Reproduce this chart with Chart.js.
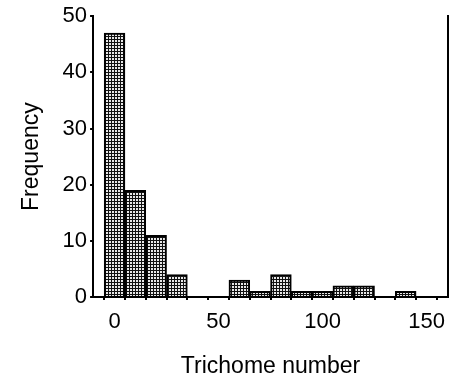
<!DOCTYPE html>
<html>
<head>
<meta charset="utf-8">
<script src="https://cdn.jsdelivr.net/npm/chart.js@4/dist/chart.umd.min.js"></script>
<style>
  html, body { margin: 0; padding: 0; background: #fff; }
  #wrap { width: 459px; height: 384px; }
</style>
</head>
<body>
<div id="wrap"><canvas id="histChart"></canvas></div>
<script>
// bin centres (trichome number) and counts
const binCentres = [0, 10, 20, 30, 40, 50, 60, 70, 80, 90, 100, 110, 120, 130, 140, 150];
const frequencies = [47, 19, 11, 4, 0, 0, 3, 1, 4, 1, 1, 2, 2, 0, 1, 0];
const xTickLabels = [0, 50, 100, 150];
const yTickLabels = [0, 10, 20, 30, 40, 50];

// dotted cross-hatch fill like the printed figure
function makePattern() {
  const c = document.createElement('canvas');
  c.width = 3; c.height = 3;
  const g = c.getContext('2d');
  g.fillStyle = '#111';
  g.fillRect(0, 0, 3, 3);
  g.fillStyle = '#e8e8e8';
  g.fillRect(1, 1, 2, 2);
  return g.createPattern(c, 'repeat');
}

const font = { family: '"Liberation Sans", Arial, sans-serif', size: 22 };

new Chart(document.getElementById('histChart'), {
  type: 'bar',
  data: {
    datasets: [{
      label: 'Frequency',
      data: binCentres.map((x, i) => ({ x, y: frequencies[i] })),
      backgroundColor: makePattern(),
      borderColor: '#000',
      borderWidth: 2,
      borderSkipped: 'bottom',
      barPercentage: 1,
      categoryPercentage: 1
    }]
  },
  options: {
    responsive: true,
    maintainAspectRatio: false,
    animation: false,
    layout: { padding: { top: 16, right: 3, left: 18, bottom: 4 } },
    plugins: { legend: { display: false }, tooltip: { enabled: false } },
    scales: {
      x: {
        type: 'linear',
        min: -5,
        max: 155,
        afterBuildTicks: axis => {
          axis.ticks = binCentres.map(v => ({ value: v }));
        },
        ticks: {
          color: '#000',
          font,
          maxRotation: 0,
          autoSkip: false,
          padding: 9,
          callback: v => xTickLabels.includes(v) ? String(v) : ''
        },
        grid: { display: true, drawOnChartArea: false, tickLength: 3, color: '#000', lineWidth: 2 },
        border: { display: true, color: '#000', width: 2 },
        title: {
          display: true,
          text: 'Trichome number',
          color: '#000',
          font: { family: font.family, size: 23 },
          padding: { top: 8, bottom: 0 }
        }
      },
      y: {
        min: 0,
        max: 50,
        afterBuildTicks: axis => {
          axis.ticks = yTickLabels.map(v => ({ value: v }));
        },
        ticks: { color: '#000', font, padding: 3 },
        grid: { display: true, drawOnChartArea: false, tickLength: 3, color: '#000', lineWidth: 2 },
        border: { display: true, color: '#000', width: 2 },
        title: {
          display: true,
          text: 'Frequency',
          color: '#000',
          font: { family: font.family, size: 23 },
          padding: { top: 0, bottom: 14 }
        }
      },
      yRight: {
        position: 'right',
        min: 0,
        max: 50,
        ticks: { display: false },
        grid: { display: false },
        border: { display: true, color: '#000', width: 2 }
      }
    }
  }
});
</script>
</body>
</html>
